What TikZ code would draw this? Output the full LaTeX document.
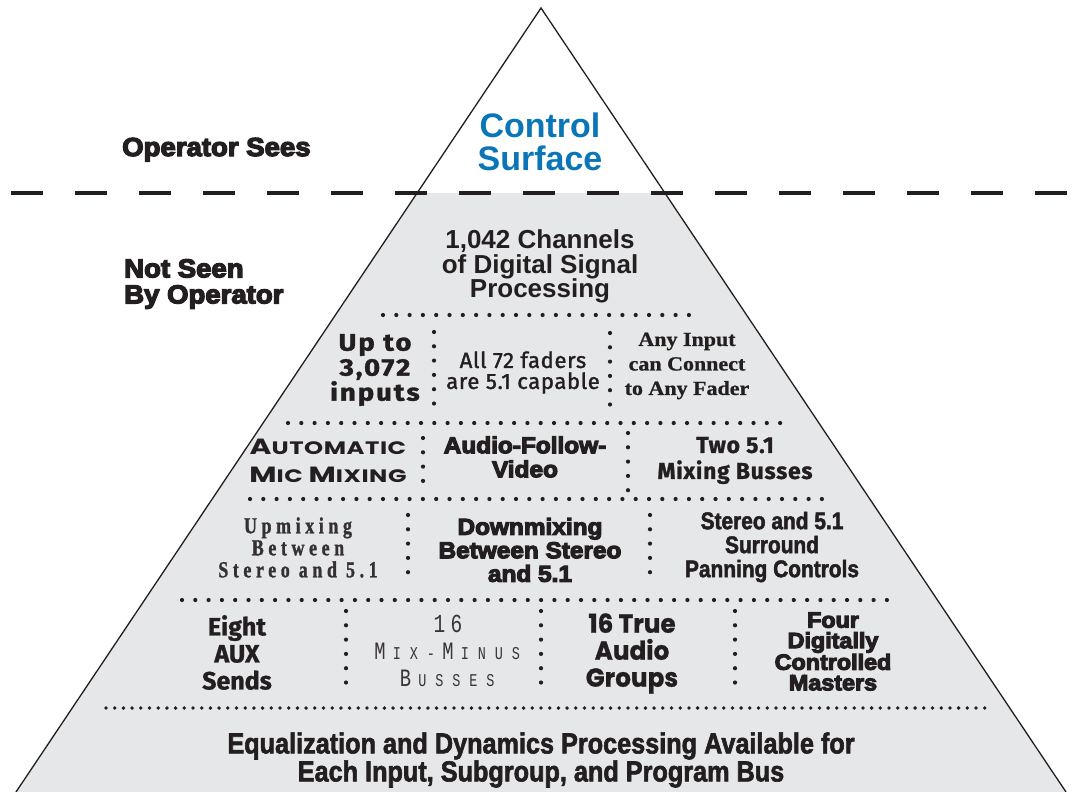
\documentclass[tikz,border=0pt]{standalone}
\usepackage{fontspec}
\setmainfont{Liberation Sans}
\newfontfamily\fheavy[FakeStretch=1.06,BoldFeatures={FakeBold=5}]{Liberation Sans}
\newfontfamily\fcond[FakeStretch=0.87,BoldFeatures={FakeBold=2}]{Liberation Sans}
\newfontfamily\fhum[BoldFeatures={FakeBold=1}]{Fira Sans}
\newfontfamily\fwide[FakeStretch=1.15,LetterSpace=8,BoldFeatures={FakeBold=1.5}]{Fira Sans}
\newfontfamily\fhand[FakeBold=1.6,LetterSpace=3]{Fira Sans}
\newfontfamily\fserif[FakeStretch=1.1,BoldFeatures={FakeBold=0.8}]{Liberation Serif}
\newfontfamily\fspaced[FakeStretch=0.78,LetterSpace=20,BoldFeatures={FakeBold=1.2}]{Liberation Serif}
\newfontfamily\fgeo[FakeStretch=0.95,BoldFeatures={FakeBold=1}]{Poppins}
\newfontfamily\fcaps[FakeStretch=1.35,LetterSpace=3]{Poppins}
\newfontfamily\fmono[FakeStretch=0.75]{Liberation Mono}
\usepackage{tikz}
\usetikzlibrary{calc}

\definecolor{ink}{HTML}{231F20}
\definecolor{surfaceblue}{HTML}{0A76B7}
\definecolor{hiddengray}{HTML}{E6E7E8}

\newcommand{\fsize}[2]{\fontsize{#1}{#2}\selectfont}
\newcommand{\capletter}[2]{{\fontsize{#1}{#1}\selectfont #2}}
\newcommand{\monoslot}[1]{\makebox[17pt]{#1}}

\tikzset{
  rowdots/.style={ink, line width=4.2pt, line cap=round, dash pattern=on 0pt off 13.3pt},
  coldots/.style={ink, line width=4.2pt, line cap=round, dash pattern=on 0pt off 14.3pt},
  basedots/.style={ink, line width=3.8pt, line cap=round, dash pattern=on 0pt off 8.7pt},
  seeline/.style={ink, line width=4pt, dash pattern=on 32pt off 32pt},
  sidetext/.style={font=\fheavy\bfseries\fsize{26}{26}, align=left, text=ink, inner sep=0pt},
  cell/.style={align=center, text=ink, inner sep=0pt}
}

\begin{document}
\begin{tikzpicture}[x=1pt, y=-1pt]
  \useasboundingbox (0,0) rectangle (1073,792);
  \fill[white] (0,0) rectangle (1073,792);

  % pyramid, shaded below the line of sight
  \coordinate (apex) at (541,8);
  \coordinate (baseL) at (16,792);
  \coordinate (baseR) at (1066,792);
  \coordinate (cutL) at ($(apex)!0.236!(baseL)$);
  \coordinate (cutR) at ($(apex)!0.236!(baseR)$);
  \fill[hiddengray] (cutL) -- (cutR) -- (baseR) -- (baseL) -- cycle;
  \draw[ink, line width=1.3pt] (baseL) -- (apex) -- (baseR);
  \draw[seeline] (11,193) -- (1070,193);

  \node[cell, font=\fsize{34}{33}\bfseries, text=surfaceblue] (surface) at (540,141.5) {Control\\Surface};
  \node[sidetext, anchor=base west] (sees) at (122,156) {Operator Sees};
  \node[sidetext, anchor=west] (unseen) at (124,284) {Not Seen\\By Operator};

  \node[cell, font=\fsize{26}{24.5}\bfseries] (dsp) at (540,266.7) {1,042 Channels\\of Digital Signal\\Processing};

  % separators
  \draw[rowdots] (383,315) -- (698,315);
  \draw[rowdots] (288,423) -- (787,423);
  \draw[rowdots] (250,499) -- (827,499);
  \draw[rowdots] (182,600) -- (890,600);
  \draw[basedots] (106,708) -- (990,708);
  \draw[coldots] (434,332) -- (434,404);
  \draw[coldots] (610,333) -- (610,412);
  \draw[coldots] (423,438) -- (423,487);
  \draw[coldots] (628,433) -- (628,491);
  \draw[coldots] (408,515) -- (408,583);
  \draw[coldots] (650,515) -- (650,583);
  \foreach \x in {346,541,735}
    \draw[coldots] (\x,611) -- (\x,695);

  \node[cell, font=\fwide\bfseries\fsize{24}{25}] (inputs) at (375,370) {Up to\\3,072\\inputs};
  \node[cell, font=\fhand\fsize{22}{21}] (faders) at (523,372.5) {All 72 faders\\are 5.1 capable};
  \node[cell, font=\fserif\bfseries\fsize{20}{24.5}] (anyinput) at (687,366) {Any Input\\can Connect\\to Any Fader};

  \node[cell, font=\fcaps\bfseries\fsize{18}{28}] (automix) at (328,460.5) {\capletter{22}{A}UTOMATIC\\\capletter{22}{M}IC \capletter{22}{M}IXING};
  \node[cell, font=\fheavy\bfseries\fsize{23}{24}] (afv) at (525,457) {Audio-Follow-\\Video};
  \node[cell, font=\fhum\bfseries\fsize{23}{26}] (busses) at (735,460.5) {\addfontfeature{LetterSpace=3}Two 5.1\\\addfontfeature{LetterSpace=3}Mixing Busses};

  \node[cell, font=\fspaced\bfseries\fsize{23}{22}, text=ink!92] (upmix) at (298,547.5) {Upmixing\\Between\\Stereo and 5.1};
  \node[cell, font=\fheavy\bfseries\fsize{23}{23.5}] (downmix) at (530,550) {Downmixing\\Between Stereo\\and 5.1};
  \node[cell, font=\fcond\bfseries\fsize{24}{24}] (panning) at (772,547) {Stereo and 5.1\\Surround\\Panning Controls};

  \node[cell, font=\fhum\bfseries\fsize{25}{27}] (aux) at (237,652.5) {Eight\\AUX\\Sends};
  \node[cell, font=\fmono\fsize{18}{27}, text=ink!90] (mixminus) at (448,651)
    {\monoslot{\capletter{26}{1}}\monoslot{\capletter{26}{6}}\\
     \monoslot{\capletter{25}{M}}\monoslot{I}\monoslot{X}\monoslot{-}\monoslot{\capletter{25}{M}}\monoslot{I}\monoslot{N}\monoslot{U}\monoslot{S}\\
     \monoslot{\capletter{25}{B}}\monoslot{U}\monoslot{S}\monoslot{S}\monoslot{E}\monoslot{S}};
  \node[cell, font=\fgeo\bfseries\fsize{26}{27}] (groups) at (632,653.5) {16 True\\Audio\\Groups};
  \node[cell, font=\fheavy\bfseries\fsize{22}{20.5}] (masters) at (833,651.5) {Four\\Digitally\\Controlled\\Masters};

  \node[cell, font=\fcond\bfseries\fsize{29}{28}] (eqdyn) at (541,760) {Equalization and Dynamics Processing Available for\\Each Input, Subgroup, and Program Bus};
\end{tikzpicture}
\end{document}
